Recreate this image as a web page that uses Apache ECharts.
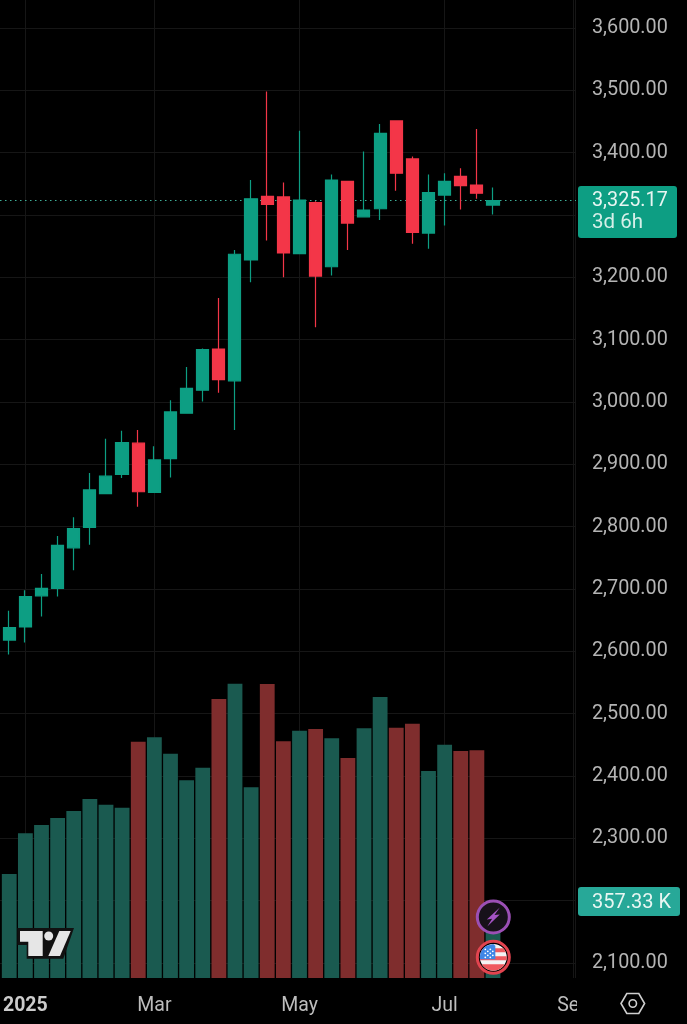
<!DOCTYPE html>
<html>
<head>
<meta charset="utf-8">
<style>
html,body{margin:0;padding:0;background:#000;}
#chart{width:687px;height:1024px;}
</style>
<script src="https://cdn.jsdelivr.net/npm/echarts@6/dist/echarts.min.js"></script>
</head>
<body>
<div id="chart"></div>
<script>
// weekly bars, the last 5 weeks are empty space on the right of the chart
var weeks = ['2024-12-30','2025-01-06','2025-01-13','2025-01-20','2025-01-27','2025-02-03','2025-02-10','2025-02-17','2025-02-24',
	'2025-03-03','2025-03-10','2025-03-17','2025-03-24','2025-03-31','2025-04-07','2025-04-14','2025-04-21','2025-04-28',
	'2025-05-05','2025-05-12','2025-05-19','2025-05-26','2025-06-02','2025-06-09','2025-06-16','2025-06-23','2025-06-30',
	'2025-07-07','2025-07-14','2025-07-21','2025-07-28','2025-08-04','2025-08-11','2025-08-18','2025-08-25','2025-09-01'];
var opens  = [2618,2639,2689,2701,2766,2799,2853,2884,2934,2855,2909,2982,3019,3085,3034,3228,3330,3329,3238,3320,3217,3354,3297,3310,3451,3390,3271,3332,3362,3348,3316];
var closes = [2638,2688,2701,2770,2797,2859,2881,2935,2856,2907,2984,3022,3084,3036,3237,3326,3317,3239,3324,3202,3356,3287,3308,3431,3367,3272,3336,3354,3347,3335,3323];
var lows   = [2595,2614,2656,2688,2730,2771,2853,2878,2832,2855,2879,2982,3001,3015,2955,3192,3259,3200,3238,3120,3203,3244,3296,3292,3339,3254,3246,3283,3309,3326,3301];
var highs  = [2665,2698,2724,2785,2815,2886,2941,2954,2955,2929,3003,3056,3086,3167,3244,3356,3498,3352,3435,3322,3365,3355,3402,3446,3451,3394,3365,3367,3375,3438,3344];
var volumes = [780,1085,1148,1200,1252,1342,1300,1277,1772,1805,1682,1483,1577,2092,2207,1430,2205,1775,1855,1868,1798,1650,1873,2108,1877,1907,1553,1750,1703,1708,357.33];
var tickIndex = [1,9,18,27,35];
var tickLabels = ['2025','Mar','May','Jul','Sep'];
var hiddenPriceTicks = [3300,2200]; // sit behind the two tags
var lastPriceLine = 3324;
var lastPriceText = '3,325.17';
var countdownText = '3d 6h';
var lastVolumeText = '357.33 K';

var UP = '#0d9e83', DOWN = '#f33648', UP_VOL = '#1a5a50', DOWN_VOL = '#7f2d2d', GRID = '#161616', FONT = 'Roboto';

var candleData = opens.map(function(o,i){ return [o,closes[i],lows[i],highs[i]] });
var volumeData = volumes.map(function(v,i){
	return {value:v,itemStyle:{color:closes[i]>=opens[i]?UP_VOL:DOWN_VOL}}
});

// one stripe of the flag, a band cut out of a circle
function band(cx,cy,r,y0,y1,xMax){
	var pts=[],n=8,i,y,dx;
	for(i=0;i<=n;i++){
		y=y0+(y1-y0)*i/n; dx=Math.sqrt(Math.max(0,r*r-y*y));
		pts.push([cx+(xMax===undefined?dx:Math.min(dx,xMax)),cy+y]);
	}
	for(i=n;i>=0;i--){
		y=y0+(y1-y0)*i/n; dx=Math.sqrt(Math.max(0,r*r-y*y));
		pts.push([cx-dx,cy+y]);
	}
	return pts;
}

var fx=493.3, fy=957.3, bx=493.3, by=917;
var graphics = [
	{type:'line',z:5,shape:{x1:575.5,y1:0,x2:575.5,y2:978},style:{stroke:GRID,lineWidth:1}},
	// cuts the Sep label at the price scale
	{type:'rect',z:50,shape:{x:577,y:984,width:30,height:40},style:{fill:'#000'}},
	// price tag
	{type:'rect',z:60,shape:{x:578,y:186,width:99,height:52,r:3},style:{fill:UP}},
	{type:'text',z:61,x:592,y:188,style:{text:lastPriceText,fill:'#e8f6f2',font:'19.8px '+FONT,lineHeight:26}},
	{type:'text',z:61,x:592,y:210,style:{text:countdownText,fill:'#d5efe8',font:'20.5px '+FONT,lineHeight:26}},
	// volume tag
	{type:'rect',z:60,shape:{x:578,y:887,width:102,height:29,r:3},style:{fill:'#27a898'}},
	{type:'text',z:61,x:592,y:893,style:{text:lastVolumeText,fill:'#e8f6f2',font:'20px '+FONT}},
	// settings icon
	{type:'polygon',z:60,shape:{points:[[621,1003.5],[626.8,993.5],[638.8,993.5],[644.6,1003.5],[638.8,1013.5],[626.8,1013.5]]},style:{fill:'none',stroke:'#cfcfcf',lineWidth:1.6}},
	{type:'circle',z:60,shape:{cx:632.8,cy:1003.5,r:3.7},style:{fill:'none',stroke:'#cfcfcf',lineWidth:1.6}},
	// logo
	{type:'polygon',z:60,shape:{points:[[17.3,928],[74,928],[63.3,958.7],[26.7,958.7],[26.7,945],[17.3,945]]},style:{fill:'#111'}},
	{type:'polygon',z:61,shape:{points:[[20,931],[42.7,931],[42.7,956],[28.3,956],[28.3,941.7],[20,941.7]]},style:{fill:'#e6e6e6'}},
	{type:'circle',z:61,shape:{cx:48.7,cy:936,r:4.5},style:{fill:'#e6e6e6'}},
	{type:'polygon',z:61,shape:{points:[[59.3,931],[70.7,931],[60,956],[48.3,956]]},style:{fill:'#e6e6e6'}},
	// event icons
	{type:'circle',z:60,shape:{cx:bx,cy:by,r:16},style:{fill:'#17111a',stroke:'#9b4fb5',lineWidth:3}},
	{type:'polygon',z:61,shape:{points:[[bx+6.5,by-9.5],[bx-6.5,by+2.5],[bx-1.2,by+1.8],[bx-6,by+9.5],[bx+6.5,by-2.5],[bx+1.2,by-2]]},style:{fill:'#a453c4'}},
	{type:'circle',z:60,shape:{cx:fx,cy:fy,r:16},style:{fill:'#000',stroke:'#e2444f',lineWidth:3}},
	{type:'circle',z:61,shape:{cx:fx,cy:fy,r:13.4},style:{fill:'#f4f4f4'}},
	{type:'polygon',z:62,shape:{points:band(fx,fy,13.4,-9,-5)},style:{fill:'#ef5a5f'}},
	{type:'polygon',z:62,shape:{points:band(fx,fy,13.4,-1,3)},style:{fill:'#ef5a5f'}},
	{type:'polygon',z:62,shape:{points:band(fx,fy,13.4,7,13.4)},style:{fill:'#ef5a5f'}},
	{type:'polygon',z:63,shape:{points:band(fx,fy,13.4,-13.4,2,2)},style:{fill:'#3f86e6'}}
];
[[-8,-8],[-3,-8],[-8,-4],[-3,-4],[-8,0],[-3,0],[-5.5,-6],[-5.5,-2],[-0.5,-6],[-0.5,-2]].forEach(function(p){
	graphics.push({type:'circle',z:64,shape:{cx:fx+p[0],cy:fy+p[1],r:0.9},style:{fill:'#fff'}});
});

var chart = echarts.init(document.getElementById('chart'));
chart.setOption({
	backgroundColor:'#000',
	animation:false,
	grid:[
		{left:0,width:576,top:28,height:935},      // price scale
		{left:1,width:580.7,top:28,height:935},    // candles
		{left:1,width:580.7,top:0,height:978}      // volume, time axis
	],
	xAxis:[
		{gridIndex:0,type:'category',show:false,data:weeks},
		{gridIndex:1,type:'category',show:false,data:weeks},
		{
			gridIndex:2,
			type:'category',
			data:weeks,
			axisLine:{show:false},
			axisTick:{show:false},
			splitLine:{
				show:true,
				alignWithLabel:true,
				interval:function(i){ return tickIndex.indexOf(i)>=0 },
				lineStyle:{color:GRID,width:1}
			},
			axisLabel:{
				margin:18,
				interval:function(i){ return tickIndex.indexOf(i)>=0 },
				color:'#bdbdbd',
				fontFamily:FONT,
				fontSize:19.5,
				formatter:function(val,i){
					var label = tickLabels[tickIndex.indexOf(i)];
					return label==='2025' ? '{b|'+label+'}' : label;
				},
				rich:{b:{fontWeight:'bold',fontFamily:FONT,fontSize:19.5,color:'#cccccc'}}
			}
		}
	],
	yAxis:[
		{
			gridIndex:0,
			type:'value',
			position:'right',
			min:2100,max:3600,interval:100,
			axisLine:{show:false},
			axisTick:{show:false},
			splitLine:{show:true,lineStyle:{color:GRID,width:1}},
			axisLabel:{
				margin:16,
				padding:[2,0,0,0],
				color:'#b4b4b4',
				fontFamily:FONT,
				fontSize:19.8,
				formatter:function(v){
					if(hiddenPriceTicks.indexOf(v)>=0) return '';
					return v.toLocaleString('en-US',{minimumFractionDigits:2,maximumFractionDigits:2});
				}
			}
		},
		{gridIndex:1,type:'value',show:false,min:2100,max:3600,splitLine:{show:false}},
		{gridIndex:2,type:'value',show:false,min:0,max:7335,splitLine:{show:false}}
	],
	series:[
		{
			name:'last',
			type:'line',
			xAxisIndex:0,yAxisIndex:0,
			data:[],
			silent:true,
			markLine:{
				symbol:'none',
				silent:true,
				label:{show:false},
				lineStyle:{color:'#3fae98',type:[1.5,3.5],width:1},
				data:[{yAxis:lastPriceLine}]
			}
		},
		{
			name:'Volume',
			type:'bar',
			xAxisIndex:2,yAxisIndex:2,
			barWidth:14.8,
			data:volumeData
		},
		{
			name:'Price',
			type:'candlestick',
			xAxisIndex:1,yAxisIndex:1,
			barWidth:12.6,
			z:10,
			itemStyle:{color:UP,color0:DOWN,borderColor:UP,borderColor0:DOWN,borderWidth:1.2},
			data:candleData
		}
	],
	graphic:{elements:graphics}
});
</script>
</body>
</html>
